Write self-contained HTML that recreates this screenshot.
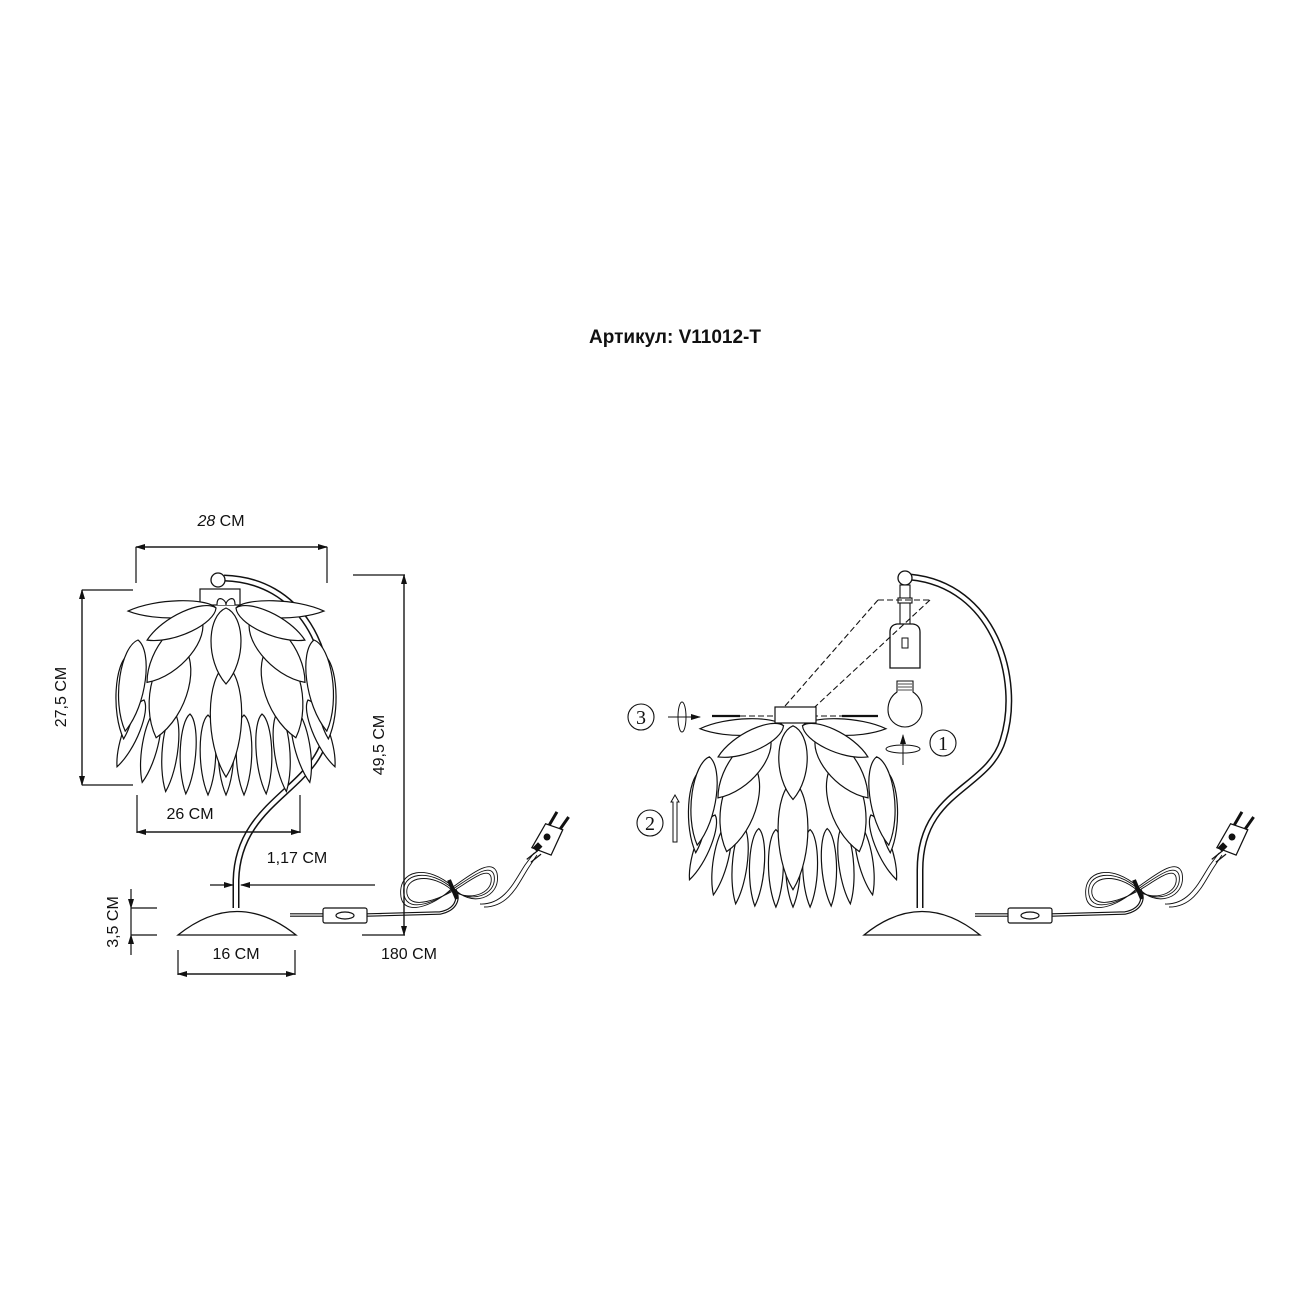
<!DOCTYPE html>
<html><head><meta charset="utf-8"><style>
html,body{margin:0;padding:0;background:#fff;}
svg{display:block}
text{font-family:"Liberation Sans",sans-serif;fill:#111}
</style></head><body>
<svg width="1300" height="1300" viewBox="0 0 1300 1300" xmlns="http://www.w3.org/2000/svg">
<defs>
<path id="p" d="M0,0 C18,8 20,55 0,80 C-20,55 -18,8 0,0 Z" fill="#fff" stroke="#111" stroke-width="1.2" vector-effect="non-scaling-stroke"/>
<marker id="ar" markerWidth="10" markerHeight="6" refX="9" refY="3" orient="auto" markerUnits="userSpaceOnUse"><path d="M0,0 L10,3 L0,6 Z" fill="#111"/></marker>
<g id="shade">
  <use href="#p" transform="translate(-82,0) rotate(22) scale(0.55,0.9)"/>
  <use href="#p" transform="translate(82,0) rotate(-22) scale(0.55,0.9)"/>
  <use href="#p" transform="translate(-68,8) rotate(12) scale(0.55,0.95)"/>
  <use href="#p" transform="translate(68,8) rotate(-12) scale(0.55,0.95)"/>
  <use href="#p" transform="translate(-52,12) rotate(6) scale(0.55,1)"/>
  <use href="#p" transform="translate(52,12) rotate(-6) scale(0.55,1)"/>
  <use href="#p" transform="translate(-36,14) rotate(3) scale(0.55,1)"/>
  <use href="#p" transform="translate(36,14) rotate(-3) scale(0.55,1)"/>
  <use href="#p" transform="translate(-18,15) scale(0.55,1)"/>
  <use href="#p" transform="translate(18,15) scale(0.55,1)"/>
  <use href="#p" transform="translate(0,15) scale(0.55,1)"/>
  <use href="#p" transform="translate(-98,-45) rotate(3) scale(0.7,1.05)"/>
  <use href="#p" transform="translate(98,-45) rotate(-3) scale(0.7,1.05)"/>
  <use href="#p" transform="translate(-88,-60) rotate(8) scale(0.9,1.15)"/>
  <use href="#p" transform="translate(88,-60) rotate(-8) scale(0.9,1.15)"/>
  <use href="#p" transform="translate(-45,-55) rotate(15) scale(1.3,1.2)"/>
  <use href="#p" transform="translate(45,-55) rotate(-15) scale(1.3,1.2)"/>
  <use href="#p" transform="translate(0,-35) scale(1.1,1.4)"/>
  <use href="#p" transform="translate(-25,-82) rotate(40) scale(1.1,1.05)"/>
  <use href="#p" transform="translate(25,-82) rotate(-40) scale(1.1,1.05)"/>
  <use href="#p" transform="translate(-10,-92) rotate(88) scale(0.6,1.1)"/>
  <use href="#p" transform="translate(10,-92) rotate(-88) scale(0.6,1.1)"/>
  <use href="#p" transform="translate(-10,-92) rotate(65) scale(0.75,0.95)"/>
  <use href="#p" transform="translate(10,-92) rotate(-65) scale(0.75,0.95)"/>
  <use href="#p" transform="translate(0,-92) scale(1.05,0.95)"/>
  <path d="M-9,-95 q0,-8 5,-6 q4,2 4,6 q0,-4 4,-6 q5,-2 5,6" fill="#fff" stroke="#111" stroke-width="1.2"/>
</g>
<g id="cord" fill="none" stroke="#111">
  <path d="M290,915 L323,915" stroke-width="3.5"/><path d="M290,915 L323,915" stroke="#fff" stroke-width="1.2"/>
  <path d="M367,915 L440,913 C455,910 460,900 455,890" stroke-width="3.5"/><path d="M367,915 L440,913 C455,910 460,900 455,890" stroke="#fff" stroke-width="1.2"/>
  <rect x="323" y="908" width="44" height="15" rx="2" fill="#fff" stroke-width="1.2"/>
  <ellipse cx="345" cy="915.5" rx="9" ry="3.5" stroke-width="1.2"/>
  <g stroke-width="0.9">
  <path d="M453,889 C430,868 400,872 404,895 C408,915 440,900 453,889 C470,878 490,862 494,875 C498,895 470,905 453,889 Z"/>
  <path d="M453,891 C432,872 404,876 407,894 C411,911 440,898 453,891 C470,881 488,866 491,877 C494,893 470,902 453,891 Z"/>
  <path d="M453,887 C428,864 397,869 401,897 C405,919 440,902 453,887 C470,875 492,857 497,873 C502,898 470,909 453,887 Z"/>
  <path d="M480,904 C505,905 515,880 525,865 L534,853"/>
  <path d="M484,907 C510,907 519,882 529,867 L537,855"/>
  </g>
  <path d="M449,880 L457,899" stroke-width="4"/>
</g>
<g id="plug">
  <path d="M-6,0 L-8,-22 L6,-26 L10,-4 Z" fill="#fff" stroke="#111" stroke-width="1"/>
  <path d="M-4,10 L-1,0 M0,10 L3,0" stroke="#111" stroke-width="1"/>
  <path d="M-3,0 L-2,-6" stroke="#111" stroke-width="5"/>
  <circle cx="-1" cy="-14" r="2.8" fill="#111"/>
  <path d="M-5,-23 L-6,-35 M4,-25 L4,-37" stroke="#111" stroke-width="2.4"/>
</g>
</defs>

<text x="675" y="343" text-anchor="middle" font-size="19" font-weight="bold">Артикул: V11012-T</text>

<g fill="none" stroke="#111">
  <path d="M224,578 C300,580 338,650 327,730 C318,790 238,800 236,880 L236,908" stroke-width="7"/>
  <path d="M224,578 C300,580 338,650 327,730 C318,790 238,800 236,880 L236,908" stroke="#fff" stroke-width="4"/>
</g>
<rect x="200" y="589" width="40" height="16" fill="#fff" stroke="#111" stroke-width="1.2"/>
<circle cx="218" cy="580" r="7" fill="#fff" stroke="#111" stroke-width="1.3"/>
<use href="#shade" transform="translate(226,700)"/>
<path d="M178,935 Q237,888 296,935 Z" fill="#fff" stroke="#111" stroke-width="1.3"/>
<use href="#cord"/>
<use href="#plug" transform="translate(538,852) rotate(35) scale(1.25)"/>

<g stroke="#111" stroke-width="1.2" fill="none">
  <path d="M136,583 L136,547 M327,583 L327,547"/>
  <path d="M136,547 L327,547" marker-end="url(#ar)"/>
  <path d="M327,547 L136,547" marker-end="url(#ar)"/>
  <path d="M82,590 L133,590 M82,785 L133,785"/>
  <path d="M82,590 L82,785" marker-end="url(#ar)"/>
  <path d="M82,785 L82,590" marker-end="url(#ar)"/>
  <path d="M137,795 L137,833 M300,795 L300,833"/>
  <path d="M137,832 L300,832" marker-end="url(#ar)"/>
  <path d="M300,832 L137,832" marker-end="url(#ar)"/>
  <path d="M353,575 L405,575 M362,935 L405,935"/>
  <path d="M404,575 L404,935" marker-end="url(#ar)"/>
  <path d="M404,935 L404,575" marker-end="url(#ar)"/>
  <path d="M210,885 L233,885" marker-end="url(#ar)"/>
  <path d="M375,885 L241,885" marker-end="url(#ar)"/>
  <path d="M131,889 L131,908" marker-end="url(#ar)"/>
  <path d="M131,955 L131,935" marker-end="url(#ar)"/>
  <path d="M131,908 L131,935 M131,908 L157,908 M131,935 L157,935"/>
  <path d="M178,950 L178,975 M295,950 L295,975"/>
  <path d="M178,974 L295,974" marker-end="url(#ar)"/>
  <path d="M295,974 L178,974" marker-end="url(#ar)"/>
</g>
<g font-size="16">
  <text x="221" y="526" text-anchor="middle"><tspan font-style="italic">28</tspan> CM</text>
  <text x="190" y="819" text-anchor="middle">26 CM</text>
  <text x="297" y="863" text-anchor="middle">1,17 CM</text>
  <text x="236" y="959" text-anchor="middle">16 CM</text>
  <text x="409" y="959" text-anchor="middle">180 CM</text>
  <text transform="translate(66,697) rotate(-90)" text-anchor="middle">27,5 CM</text>
  <text transform="translate(384,745) rotate(-90)" text-anchor="middle">49,5 CM</text>
  <text transform="translate(118,922) rotate(-90)" text-anchor="middle">3,5 CM</text>
</g>

<g fill="none" stroke="#111">
  <path d="M910,577 C995,585 1022,680 1003,740 C988,790 920,790 920,870 L920,908" stroke-width="7"/>
  <path d="M910,577 C995,585 1022,680 1003,740 C988,790 920,790 920,870 L920,908" stroke="#fff" stroke-width="4"/>
</g>
<circle cx="905" cy="578" r="7" fill="#fff" stroke="#111" stroke-width="1.3"/>
<rect x="900" y="585" width="10" height="42" fill="#fff" stroke="#111" stroke-width="1.1"/>
<rect x="898" y="598" width="14" height="5" fill="#fff" stroke="#111" stroke-width="1.1"/>
<path d="M890,668 L890,632 Q890,625 897,624 L913,624 Q920,625 920,632 L920,668 Z" fill="#fff" stroke="#111" stroke-width="1.3"/>
<rect x="902" y="638" width="6" height="10" fill="#fff" stroke="#111" stroke-width="1"/>
<path d="M897,681 L913,681 L913,692 Q922,698 922,710 A17,17 0 1 1 888,710 Q888,698 897,692 Z" fill="#fff" stroke="#111" stroke-width="1.1"/>
<path d="M898,684 L912,684 M898,687 L912,687 M898,690 L912,690" stroke="#111" stroke-width="0.8"/>
<g stroke="#111" stroke-width="1.1" fill="none" stroke-dasharray="6,3">
  <path d="M878,600 L930,600"/>
  <path d="M878,600 L778,714"/>
  <path d="M930,600 L803,718"/>
  <path d="M740,716 L842,716"/>
</g>
<path d="M712,716 L740,716 M842,716 L878,716" stroke="#111" stroke-width="2.2"/>
<use href="#shade" transform="translate(793,815) scale(0.95,0.97)"/>
<rect x="775" y="707" width="41" height="16" fill="#fff" stroke="#111" stroke-width="1.2"/>
<path d="M864,935 Q922,888 980,935 Z" fill="#fff" stroke="#111" stroke-width="1.3"/>
<use href="#cord" transform="translate(685,0)"/>
<use href="#plug" transform="translate(1223,852) rotate(35) scale(1.25)"/>

<g stroke="#111" stroke-width="1.1" fill="#fff">
  <circle cx="641" cy="717" r="13"/>
  <circle cx="650" cy="823" r="13"/>
  <circle cx="943" cy="743" r="13"/>
</g>
<g font-size="20" text-anchor="middle">
  <text x="641" y="724" style="font-family:'Liberation Serif',serif">3</text>
  <text x="650" y="830" style="font-family:'Liberation Serif',serif">2</text>
  <text x="943" y="750" style="font-family:'Liberation Serif',serif">1</text>
</g>
<g stroke="#111" stroke-width="1" fill="none">
  <path d="M668,717 L700,717" marker-end="url(#ar)"/>
  <ellipse cx="682" cy="717" rx="4" ry="15"/>
  <path d="M903,765 L903,735" marker-end="url(#ar)"/>
  <ellipse cx="903" cy="749" rx="17" ry="4"/>
  <path d="M673,842 L673,802 L671,802 L675,795 L679,802 L677,802 L677,842 Z"/>
</g>
</svg>
</body></html>
